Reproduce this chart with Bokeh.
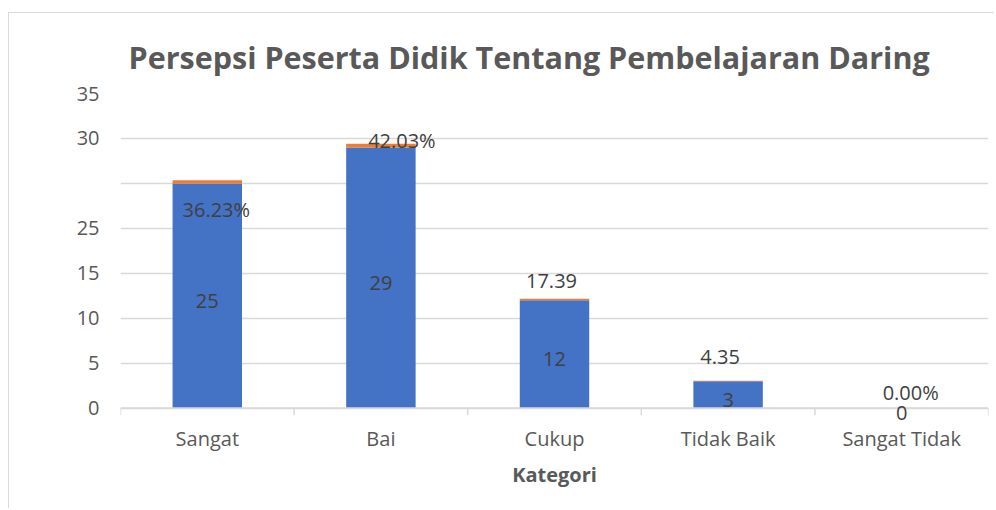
from bokeh.plotting import figure
from bokeh.models import ColumnDataSource, FixedTicker, Range1d, LabelSet, Span
from bokeh.core.properties import value
from bokeh.embed import file_html
from bokeh.resources import INLINE

# ---- data ----
categories = ["Sangat", "Bai", "Cukup", "Tidak Baik", "Sangat Tidak"]
counts = [25, 29, 12, 3, 0]
percents = [36.23, 42.03, 17.39, 4.35, 0.00]
percent_labels = ["36.23%", "42.03%", "17.39", "4.35", "0.00%"]
count_labels = ["25", "29", "12", "3", "0"]
y_ticks = [0, 5, 10, 15, 20, 25, 30, 35]
y_tick_text = ["0", "5", "10", "15", "25", "", "30", "35"]

# ---- styling ----
BLUE = "#4472C4"
ORANGE = "#ED7D31"
GRID = "#d9d9d9"
AXIS_TXT = "#595959"
LBL_TXT = "#404040"
FONT = "Open Sans"
pct_dx = [9, 21, -3, -8, 9]      # pixel nudges of the percentage labels
pct_dy = [-29, 3, 18, 24, 16]
Y_PAD = 1.6                      # room below the baseline for the "0" label
TICK_LEN = 0.8                   # category tick length below the baseline

n = len(categories)
xc = [i + 0.5 for i in range(n)]
bounds = list(range(n + 1))
orange_top = [c + p / 100.0 for c, p in zip(counts, percents)]

src = ColumnDataSource(dict(
    x=xc, counts=counts, otop=orange_top,
    cmid=[c / 2.0 for c in counts], clab=count_labels,
    plab=percent_labels, pdx=pct_dx, pdy=pct_dy,
))

p = figure(width=986, height=496, output_backend="svg", toolbar_location=None,
           x_range=Range1d(0, n), y_range=Range1d(-Y_PAD, 35),
           min_border_left=111, min_border_right=7, min_border_top=80,
           min_border_bottom=87,
           title="Persepsi Peserta Didik Tentang Pembelajaran Daring")
p.styles = {"border-top": "1px solid #d9d9d9", "border-left": "1px solid #d9d9d9",
            "margin-left": "8px", "margin-top": "12px"}
p.outline_line_color = None
p.background_fill_color = "white"
p.border_fill_color = "white"

p.title.text_font = FONT
p.title.text_font_size = "30.5px"
p.title.text_font_style = "bold"
p.title.text_color = AXIS_TXT
p.title.align = "left"
p.title.offset = 8
p.title.standoff = 32

# gridlines
p.ygrid.ticker = FixedTicker(ticks=y_ticks)
p.ygrid.grid_line_color = GRID
p.ygrid.grid_line_width = 1.5
p.xgrid.visible = False

# baseline with category ticks
p.add_layout(Span(location=0, dimension="width", line_color=GRID, line_width=1.5))
p.segment(x0=bounds, y0=[0] * len(bounds), x1=bounds, y1=[-TICK_LEN] * len(bounds),
          line_color=GRID, line_width=1.5)

p.vbar(x="x", top="counts", bottom=0, width=0.4, fill_color=BLUE,
       line_color=None, source=src)
p.vbar(x="x", top="otop", bottom="counts", width=0.4, fill_color=ORANGE,
       line_color=None, source=src)

p.add_layout(LabelSet(x="x", y="cmid", text="clab", source=src, text_align="center",
                      text_baseline="middle", y_offset=-5, text_font=value(FONT),
                      text_font_size=value("20px"), text_color=LBL_TXT))
p.add_layout(LabelSet(x="x", y="otop", text="plab", source=src, text_align="center",
                      text_baseline="middle", x_offset="pdx", y_offset="pdy",
                      text_font=value(FONT), text_font_size=value("20px"),
                      text_color=LBL_TXT))

# y axis
p.yaxis.ticker = FixedTicker(ticks=y_ticks)
p.yaxis.major_label_overrides = {t: s for t, s in zip(y_ticks, y_tick_text)}
p.yaxis.axis_line_color = None
p.yaxis.major_tick_line_color = None
p.yaxis.minor_tick_line_color = None
p.yaxis.major_label_text_font = FONT
p.yaxis.major_label_text_font_size = "20px"
p.yaxis.major_label_text_color = AXIS_TXT
p.yaxis.major_label_standoff = 15

# x axis (labels only; baseline drawn above)
p.xaxis.ticker = FixedTicker(ticks=xc)
p.xaxis.major_label_overrides = {x: c for x, c in zip(xc, categories)}
p.xaxis.axis_line_color = None
p.xaxis.major_tick_line_color = None
p.xaxis.minor_tick_line_color = None
p.xaxis.major_tick_out = 0
p.xaxis.major_tick_in = 0
p.xaxis.major_label_text_font = FONT
p.xaxis.major_label_text_font_size = "20px"
p.xaxis.major_label_text_color = AXIS_TXT
p.xaxis.major_label_standoff = 2
p.xaxis.axis_label = "Kategori"
p.xaxis.axis_label_text_font = FONT
p.xaxis.axis_label_text_font_size = "20px"
p.xaxis.axis_label_text_font_style = "bold"
p.xaxis.axis_label_text_color = AXIS_TXT
p.xaxis.axis_label_standoff = 6

open("out.html", "w").write(file_html(p, INLINE))
